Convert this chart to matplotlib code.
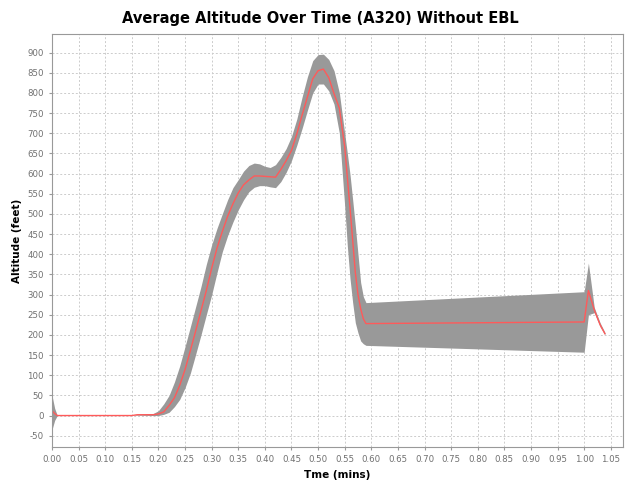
import numpy as np
import matplotlib
matplotlib.use('Agg')
import matplotlib.pyplot as plt

# values
time = [0.000, 0.005, 0.010, 0.050, 0.100, 0.150, 0.160, 0.190, 0.200, 0.210,
        0.220, 0.230, 0.240, 0.250, 0.260, 0.270, 0.280, 0.290, 0.300, 0.310,
        0.320, 0.330, 0.340, 0.350, 0.360, 0.370, 0.380, 0.390, 0.400, 0.410,
        0.420, 0.430, 0.440, 0.450, 0.460, 0.470, 0.480, 0.490, 0.500, 0.510,
        0.520, 0.530, 0.540, 0.550, 0.555, 0.560, 0.565, 0.570, 0.575, 0.580,
        0.585, 0.590, 1.000, 1.008, 1.019, 1.030, 1.039]
mean_alt = [12, 5, 0, 0, 0, 0, 2, 2, 4, 9,
            25, 44, 75, 114, 161, 210, 260, 310, 365, 415,
            456, 494, 525, 552, 572, 584, 594, 594, 593, 592,
            591, 610, 632, 657, 698, 745, 790, 835, 855, 859,
            838, 798, 762, 667, 590, 515, 435, 355, 300, 265,
            240, 228, 232, 310, 262, 225, 203]
lower_alt = [-35, -12, 0, 0, 0, 0, 1, 0, 0, 3,
             8, 22, 40, 69, 105, 152, 200, 250, 299, 354,
             406, 446, 480, 510, 535, 555, 566, 570, 570, 567,
             565, 580, 603, 632, 670, 712, 757, 800, 822, 822,
             805, 772, 700, 520, 420, 340, 280, 230, 205, 185,
             178, 174, 157, 250, 255, 220, 200]
upper_alt = [50, 18, 0, 0, 0, 0, 3, 5, 12, 29,
             50, 83, 123, 171, 220, 270, 320, 375, 423, 464,
             500, 535, 565, 585, 606, 620, 626, 624, 618, 615,
             622, 640, 662, 692, 735, 790, 840, 880, 895, 896,
             883, 855, 800, 700, 650, 598, 535, 470, 400, 330,
             295, 280, 307, 378, 268, 230, 206]

xticks = np.arange(0, 1.051, 0.05)
yticks = np.arange(-50, 901, 50)

plt.rcParams['axes.unicode_minus'] = False

fig = plt.figure(figsize=(6.25, 4.84), dpi=100)
ax = fig.add_axes([52/625, 37/484, 571/625, 413/484])

ax.fill_between(time, lower_alt, upper_alt, color='#999999', linewidth=0)
ax.plot(time, mean_alt, color='#ff5a5a', linewidth=1)

ax.set_xlim(0, 1.073)
ax.set_ylim(-78, 946)
ax.set_xticks(xticks)
ax.set_xticklabels(['%.2f' % v for v in xticks])
ax.set_yticks(yticks)
ax.grid(True, color='#cccccc', linestyle=(0, (2, 2)), linewidth=0.7)
ax.set_axisbelow(True)
ax.tick_params(labelsize=6.2, colors='#999999', labelcolor='#707070', length=2.5)
for s in ax.spines.values():
    s.set_color('#999999')

fig.text(320/625, 1 - 18/484, 'Average Altitude Over Time (A320) Without EBL',
         fontsize=10.5, fontweight='bold', ha='center', va='center')
ax.set_xlabel('Tme (mins)', fontsize=7.5, fontweight='bold', labelpad=4)
ax.set_ylabel('Altitude (feet)', fontsize=7.5, fontweight='bold', labelpad=4)

fig.savefig('out.png', dpi=100)
